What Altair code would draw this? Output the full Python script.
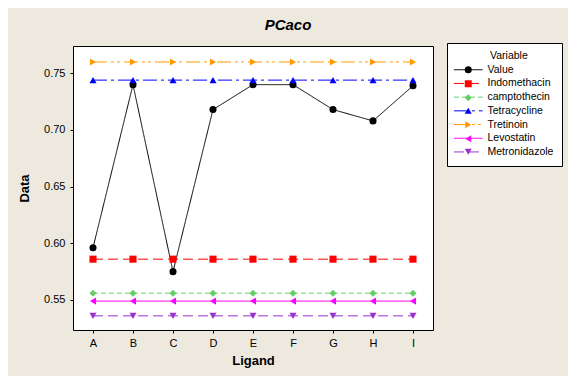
import altair as alt
import pandas as pd

ligands = ["A", "B", "C", "D", "E", "F", "G", "H", "I"]
value = [0.596, 0.740, 0.575, 0.718, 0.740, 0.740, 0.718, 0.708, 0.739]
indomethacin = [0.586, 0.586, 0.586, 0.586, 0.586, 0.586, 0.586, 0.586, 0.586]
camptothecin = [0.556, 0.556, 0.556, 0.556, 0.556, 0.556, 0.556, 0.556, 0.556]
tetracycline = [0.744, 0.744, 0.744, 0.744, 0.744, 0.744, 0.744, 0.744, 0.744]
tretinoin = [0.760, 0.760, 0.760, 0.760, 0.760, 0.760, 0.760, 0.760, 0.760]
levostatin = [0.549, 0.549, 0.549, 0.549, 0.549, 0.549, 0.549, 0.549, 0.549]
metronidazole = [0.536, 0.536, 0.536, 0.536, 0.536, 0.536, 0.536, 0.536, 0.536]

variables = ["Value", "Indomethacin", "camptothecin", "Tetracycline",
             "Tretinoin", "Levostatin", "Metronidazole"]
series = [value, indomethacin, camptothecin, tetracycline,
          tretinoin, levostatin, metronidazole]
colors = ["#000000", "#FF0000", "#66CC66", "#0000FF", "#FF9900", "#FF00FF", "#9933CC"]
shapes = ["circle", "square", "diamond", "triangle-up",
          "triangle-right", "triangle-left", "triangle-down"]
dashes = [[1, 0], [10, 5], [5, 3], [14, 4, 3, 4], [14, 4, 3, 3, 3, 4], [1, 0], [10, 5]]
y_ticks = [0.55, 0.60, 0.65, 0.70, 0.75]

# marker layer uses its own keys so that its (label-less) legend stays separate
marker_keys = [v + "\u200b" for v in variables]

rows = []
for var, key, vals in zip(variables, marker_keys, series):
    for lig, v in zip(ligands, vals):
        rows.append({"Ligand": lig, "Variable": var, "Marker": key, "Data": v})
df = pd.DataFrame(rows)

FONT = "Liberation Sans"
NB = "\u00a0"
legend_title = "\u200b" + NB * 12 + "Variable" + "\u200b"

common_legend = dict(
    orient="none", legendX=374, legendY=-3,
    title=legend_title, titleFont=FONT, titleFontSize=10.5, titleFontWeight="normal",
    titleColor="black", titlePadding=3,
    labelFont=FONT, labelFontSize=10.5, labelColor="black",
    symbolSize=49, symbolOffset=8, labelOffset=14, padding=8,
)

line_legend = alt.Legend(
    symbolType="M-4.1,0H4.1", symbolStrokeWidth=1, rowPadding=2.7,
    fillColor="white", strokeColor="black", zindex=0, **common_legend,
)
point_legend = alt.Legend(
    labelOpacity=0, titleOpacity=0, rowPadding=0, zindex=1, **common_legend,
)

x_enc = alt.X("Ligand:N", scale=alt.Scale(type="point", padding=0.5),
              axis=alt.Axis(title="Ligand", labelAngle=0, labelPadding=4, titlePadding=6))
y_enc = alt.Y("Data:Q", scale=alt.Scale(domain=[0.5235, 0.7741], nice=False, zero=False),
              axis=alt.Axis(title="Data", values=y_ticks, format=".2f",
                            labelPadding=5, titlePadding=12))

lines = alt.Chart(df).mark_line(strokeWidth=1).encode(
    x=x_enc, y=y_enc,
    color=alt.Color("Variable:N", scale=alt.Scale(domain=variables, range=colors),
                    legend=line_legend),
    strokeDash=alt.StrokeDash("Variable:N", scale=alt.Scale(domain=variables, range=dashes),
                              legend=line_legend),
)

points = alt.Chart(df).mark_point(filled=True, size=50, opacity=1).encode(
    x=x_enc, y=y_enc,
    fill=alt.Fill("Marker:N", scale=alt.Scale(domain=marker_keys, range=colors),
                  legend=point_legend),
    shape=alt.Shape("Marker:N", scale=alt.Scale(domain=marker_keys, range=shapes),
                    legend=point_legend),
)

chart = alt.layer(lines, points).properties(
    width=360, height=284,
    title=alt.Title("PCaco", font=FONT, fontSize=15, fontWeight="bold",
                    fontStyle="italic", color="black", anchor="middle", dx=35, offset=10),
    autosize=alt.AutoSizeParams(type="none"),
    padding={"left": 65, "top": 38, "right": 135, "bottom": 46},
    background="#EDE9DF",
).configure_view(
    stroke="black", strokeWidth=1, fill="white",
).configure_axis(
    grid=False, domain=False, tickSize=3, tickColor="black",
    labelFont=FONT, labelFontSize=11, labelColor="black",
    titleFont=FONT, titleFontSize=13, titleFontWeight="bold", titleColor="black",
)

chart.save("out.html", embed_options={"renderer": "svg", "actions": False})
